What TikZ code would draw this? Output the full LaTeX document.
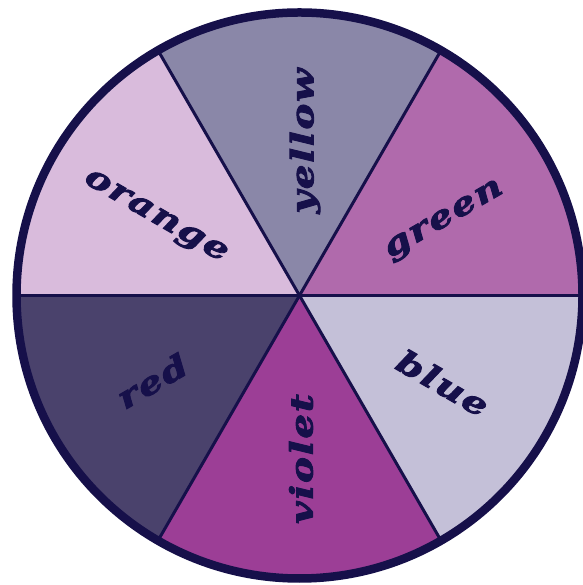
\documentclass[tikz,border=0pt]{standalone}
\usepackage{fontspec}
\newfontfamily\wheelfont[FakeStretch=1.25,LetterSpace=6,FakeBold=3]{DejaVu Serif Bold Italic}
\definecolor{cgreen}{HTML}{B06AAC}
\definecolor{cyellow}{HTML}{8A87A8}
\definecolor{corange}{HTML}{D9BBDC}
\definecolor{cred}{HTML}{4A426C}
\definecolor{cviolet}{HTML}{9C3E96}
\definecolor{cblue}{HTML}{C4C0D8}
\definecolor{cink}{HTML}{16104A}
\begin{document}
\begin{tikzpicture}[x=1pt,y=1pt,
  wedge/.style={draw=cink,line width=3pt,line join=round},
  lbl/.style={text=cink,inner sep=0pt,font=\wheelfont\fontsize{31}{31}\selectfont}]
\useasboundingbox (0,0) rectangle (582,585);
\fill[white] (0,0) rectangle (582,585);
\coordinate (c) at (299.5,289.5);
\def\R{283}
\fill[cgreen]  (c) -- ++(0:\R) arc[start angle=0,end angle=60,radius=\R] -- cycle;
\fill[cyellow] (c) -- ++(60:\R) arc[start angle=60,end angle=120,radius=\R] -- cycle;
\fill[corange] (c) -- ++(120:\R) arc[start angle=120,end angle=180,radius=\R] -- cycle;
\fill[cred]    (c) -- ++(180:\R) arc[start angle=180,end angle=240,radius=\R] -- cycle;
\fill[cviolet] (c) -- ++(240:\R) arc[start angle=240,end angle=300,radius=\R] -- cycle;
\fill[cblue]   (c) -- ++(300:\R) arc[start angle=300,end angle=360,radius=\R] -- cycle;
\foreach \a in {0,60,...,300} \draw[wedge] (c) -- ++(\a:\R);
\draw[cink,line width=8.5pt] (c) circle[radius=\R];
\node[lbl,rotate=90]  (yellow) at (305,444) {yellow};
\node[lbl,rotate=30]  (green)  at (445,364) {green};
\node[lbl,rotate=-30] (blue)   at (443,202) {blue};
\node[lbl,rotate=90]  (violet) at (301,126) {violet};
\node[lbl,rotate=30]  (red)    at (152,204) {red};
\node[lbl,rotate=-30] (orange) at (155,367) {orange};
\end{tikzpicture}
\end{document}
